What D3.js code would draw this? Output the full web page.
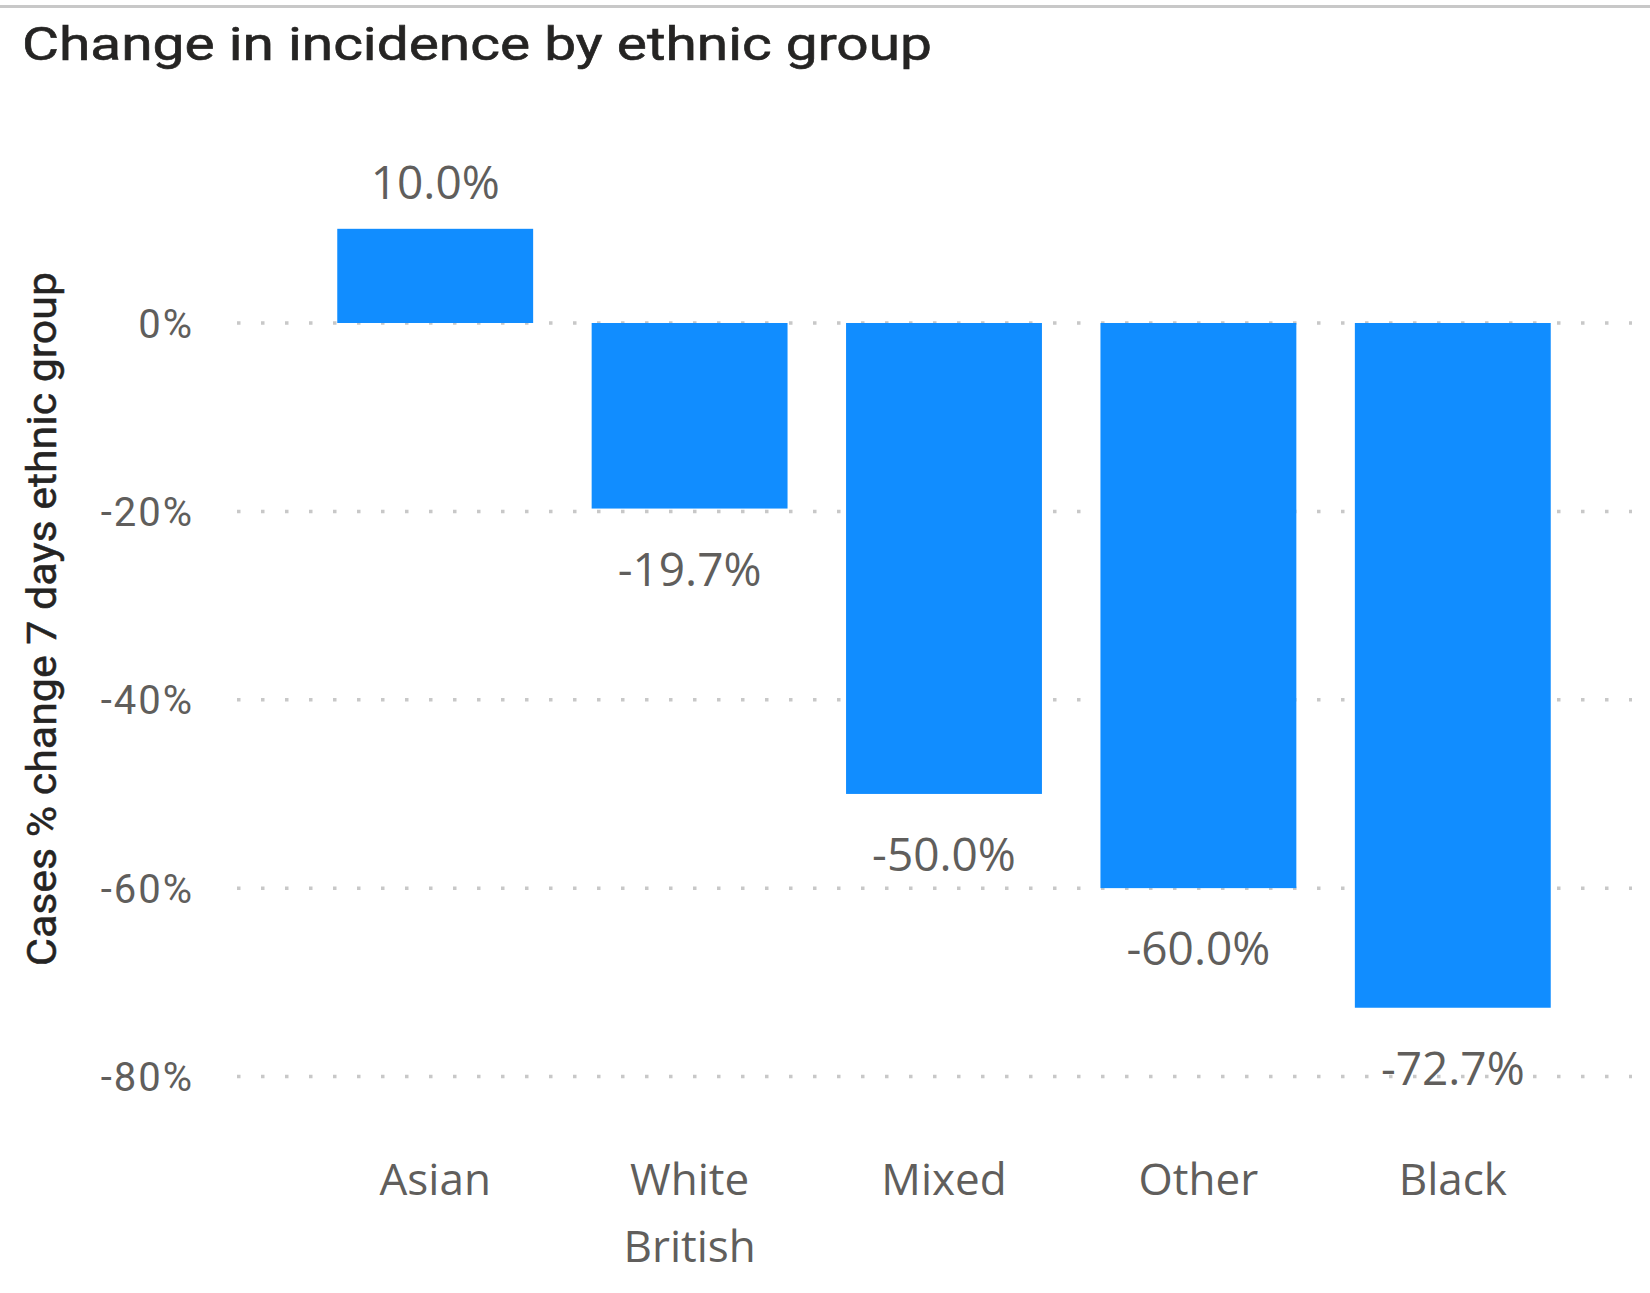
<!DOCTYPE html>
<html>
<head>
<meta charset="utf-8">
<script src="https://cdn.jsdelivr.net/npm/d3@7"></script>
<style>
  html, body { margin: 0; padding: 0; background: #fff; }
  svg { display: block; }
</style>
</head>
<body>
<script>
const categories = ["Asian", "White British", "Mixed", "Other", "Black"];
const values = [10.0, -19.7, -50.0, -60.0, -72.7];
const yTicks = [0, -20, -40, -60, -80];
const titleText = "Change in incidence by ethnic group";
const yAxisTitle = "Cases % change 7 days ethnic group";

const W = 1650, H = 1293;
const svg = d3.select("body").append("svg").attr("width", W).attr("height", H);

// top border line
svg.append("rect").attr("x", 0).attr("y", 5).attr("width", W).attr("height", 3).attr("fill", "#c8c8c8");

// title
svg.append("text")
  .attr("x", 22).attr("y", 60)
  .attr("font-family", "Roboto, 'DejaVu Sans', sans-serif")
  .attr("font-size", 46)
  .attr("font-weight", 400)
  .attr("stroke", "#252423").attr("stroke-width", 0.6)
  .attr("fill", "#252423")
  .attr("textLength", 910).attr("lengthAdjust", "spacingAndGlyphs")
  .text(titleText);

const x = d3.scaleBand().domain(categories).range([308, 1580]).paddingInner(0.23).paddingOuter(0.115);
const y = d3.scaleLinear().domain([-80, 0]).range([1076.5, 323]);

// gridlines
svg.append("g").selectAll("line").data(yTicks).join("line")
  .attr("x1", 237).attr("x2", 1632)
  .attr("y1", d => y(d)).attr("y2", d => y(d))
  .attr("stroke", "#c8c8c8").attr("stroke-width", 3.5)
  .attr("stroke-dasharray", "3.5,20.5");

// y axis labels
const yAxis = d3.axisLeft(y).tickValues(yTicks).tickFormat(d => d + "%").tickSize(0).tickPadding(0);
const gy = svg.append("g").attr("transform", "translate(194,0)").call(yAxis);
gy.select(".domain").remove();
gy.selectAll("text")
  .attr("font-family", "Roboto, 'DejaVu Sans', sans-serif")
  .attr("font-size", 40)
  .attr("letter-spacing", 2)
  .attr("fill", "#605e5c")
  .attr("dy", "0.35em");

// y axis title
svg.append("text")
  .attr("transform", `translate(56,619) rotate(-90)`)
  .attr("text-anchor", "middle")
  .attr("font-family", "Roboto, 'DejaVu Sans', sans-serif")
  .attr("font-size", 40)
  .attr("font-weight", 400)
  .attr("stroke", "#252423").attr("stroke-width", 0.5)
  .attr("fill", "#252423")
  .attr("textLength", 694).attr("lengthAdjust", "spacingAndGlyphs")
  .text(yAxisTitle);

// bars
svg.append("g").selectAll("rect").data(categories).join("rect")
  .attr("x", d => x(d))
  .attr("width", x.bandwidth())
  .attr("y", (d, i) => Math.min(y(values[i]), y(0)))
  .attr("height", (d, i) => Math.abs(y(values[i]) - y(0)))
  .attr("fill", "#118dff");

// data labels
svg.append("g").selectAll("text").data(categories).join("text")
  .attr("x", d => x(d) + x.bandwidth() / 2)
  .attr("y", (d, i) => values[i] >= 0 ? y(values[i]) - 30 : y(values[i]) + 77)
  .attr("text-anchor", "middle")
  .attr("font-family", "'Open Sans', 'Noto Sans', sans-serif")
  .attr("font-size", 46)
  .attr("fill", "#605e5c")
  .text((d, i) => values[i].toFixed(1) + "%");

// x axis labels
const xAxis = d3.axisBottom(x).tickSize(0).tickPadding(0).tickFormat("");
const gx = svg.append("g").attr("transform", "translate(0,1195)").call(xAxis);
gx.select(".domain").remove();
gx.selectAll(".tick text").remove();
gx.selectAll(".tick").each(function(d) {
  const t = d3.select(this).append("text")
    .attr("text-anchor", "middle")
    .attr("font-family", "'Open Sans', 'Noto Sans', sans-serif")
    .attr("font-size", 44)
    .attr("fill", "#605e5c");
  d.split(" ").forEach((w, k) => {
    t.append("tspan").attr("x", 0).attr("y", k * 66.7).text(w);
  });
});
</script>
</body>
</html>
